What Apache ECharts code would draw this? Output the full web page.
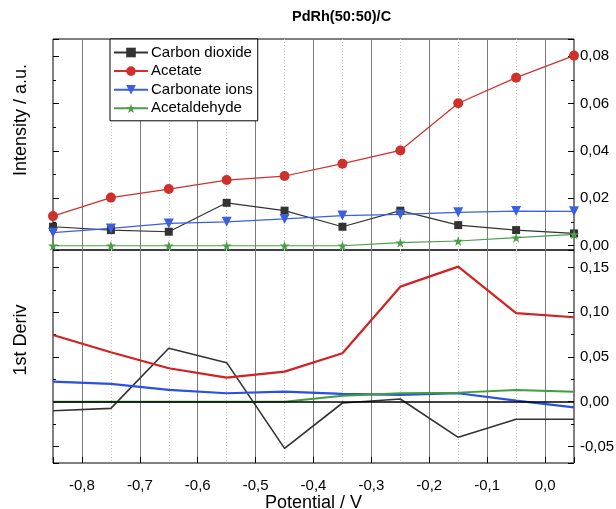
<!DOCTYPE html>
<html><head><meta charset="utf-8">
<script src="https://cdn.jsdelivr.net/npm/echarts@6/dist/echarts.min.js"></script>
<style>html,body{margin:0;padding:0;background:#fff}#c{width:616px;height:509px}</style>
</head><body><div id="c"></div>
<script>
// ---- data ----
const potentials = [-0.85, -0.75, -0.65, -0.55, -0.45, -0.35, -0.25, -0.15, -0.05, 0.05];
const seriesNames = ['Carbon dioxide', 'Acetate', 'Carbonate ions', 'Acetaldehyde'];
// top panel: Intensity / a.u.
const carbonDioxide = [0.0080, 0.0066, 0.0059, 0.0181, 0.0148, 0.0080, 0.0148, 0.0087, 0.0066, 0.0052];
const acetate       = [0.0125, 0.0203, 0.0239, 0.0277, 0.0294, 0.0346, 0.0402, 0.0601, 0.0709, 0.0802];
const carbonateIons = [0.0055, 0.0073, 0.0094, 0.0101, 0.0113, 0.0127, 0.0132, 0.0141, 0.0146, 0.0145];
const acetaldehyde  = [0.0000, 0.0000, 0.0000, 0.0000, 0.0000, 0.0000, 0.0013, 0.0020, 0.0034, 0.0048];
// bottom panel: 1st Deriv
const dCarbonDioxide = [-0.0101, -0.0075, 0.0597, 0.0436, -0.0522, -0.0015, 0.0030, -0.0399, -0.0197, -0.0197];
const dAcetate       = [0.0746, 0.0552, 0.0374, 0.0269, 0.0336, 0.0541, 0.1286, 0.1510, 0.0989, 0.0944];
const dCarbonateIons = [0.0224, 0.0198, 0.0131, 0.0094, 0.0112, 0.0086, 0.0075, 0.0094, 0.0011, -0.0063];
const dAcetaldehyde  = [0.0000, 0.0000, 0.0000, 0.0000, 0.0000, 0.0067, 0.0094, 0.0101, 0.0131, 0.0112];
// tick labels
const xTickLabels = ['-0,8', '-0,7', '-0,6', '-0,5', '-0,4', '-0,3', '-0,2', '-0,1', '0,0'];
const topTickLabels = ['0,00', '0,02', '0,04', '0,06', '0,08'];
const bottomTickLabels = ['-0,05', '0,00', '0,05', '0,10', '0,15'];

// ---- chart ----
const FONT = '"Liberation Sans", Arial, sans-serif';
const zip = arr => potentials.map((x, i) => [x, arr[i]]);
const colors = { black: '#333333', red: '#d0302c', blue: '#3a5fe0', green: '#4a9e4a' };
const starPath = 'path://M50,0 L61,35 L98,35 L68,57 L79,91 L50,70 L21,91 L32,57 L2,35 L39,35 Z';

function xLabel(v) {
  const r = Math.round(v * 10) / 10;
  if (Math.abs(v - r) > 1e-6) return '';
  const s = (r === 0 ? 0 : r).toFixed(1).replace('.', ',');
  return xTickLabels.indexOf(s) >= 0 ? s : '';
}
function yLabel(list) {
  return function (v) {
    const r = Math.round(v * 100) / 100;
    if (Math.abs(v - r) > 1e-6) return '';
    const s = (Math.abs(r) < 1e-9 ? 0 : r).toFixed(2).replace('.', ',');
    return list.indexOf(s) >= 0 ? s : '';
  };
}

const grids = [
  { left: 53, right: 42, top: 39, height: 211, show: true, borderColor: '#000', borderWidth: 1,
    backgroundColor: 'transparent', containLabel: false, outerBoundsMode: 'none' },
  { left: 53, right: 42, top: 250, height: 213, show: true, borderColor: '#000', borderWidth: 1,
    backgroundColor: 'transparent', containLabel: false, outerBoundsMode: 'none' }
];

function majorX(gridIndex, withLabels) {
  return {
    type: 'value', gridIndex, position: 'bottom', min: -0.85, max: 0.05, splitNumber: 9, minInterval: 0.1, maxInterval: 0.1,
    axisLine: { show: false, onZero: false },
    axisTick: { show: withLabels, inside: true, length: 6, lineStyle: { color: '#000' } },
    axisLabel: { show: withLabels, formatter: xLabel, fontFamily: FONT, fontSize: 15, color: '#000', margin: 15 },
    splitLine: { show: true, showMinLine: false, showMaxLine: false, lineStyle: { color: '#7a7a7a', width: 1 } },
    name: withLabels ? 'Potential / V' : '', nameLocation: 'middle', nameGap: 29,
    nameTextStyle: { fontFamily: FONT, fontSize: 18, color: '#000' }
  };
}
function minorX(gridIndex) {
  return {
    type: 'value', gridIndex, position: 'bottom', min: -0.85, max: 0.05, interval: 0.1,
    axisLine: { show: false, onZero: false }, axisTick: { show: false }, axisLabel: { show: false },
    splitLine: { show: true, showMinLine: false, showMaxLine: false, lineStyle: { color: '#c4c4c4', width: 1, type: [1, 2] } }
  };
}
function yAx(gridIndex, pos, min, max, step, labels) {
  return {
    type: 'value', gridIndex, position: pos, min, max, splitNumber: Math.round((max - min) / step),
    minInterval: step, maxInterval: step,
    axisLine: { show: false, onZero: false },
    axisTick: { show: true, inside: true, length: 6, lineStyle: { color: '#000' } },
    minorTick: { show: true, splitNumber: 2, length: 3, lineStyle: { color: '#000' } },
    axisLabel: { show: pos === 'right', formatter: yLabel(labels), fontFamily: FONT, fontSize: 15, color: '#000', margin: 6 },
    splitLine: { show: false }
  };
}

const topSeries = [
  { name: seriesNames[0], data: zip(carbonDioxide), color: colors.black, symbol: 'rect', symbolSize: 8, symbolRotate: 0 },
  { name: seriesNames[1], data: zip(acetate), color: colors.red, symbol: 'circle', symbolSize: 10, symbolRotate: 0 },
  { name: seriesNames[2], data: zip(carbonateIons), color: colors.blue, symbol: 'triangle', symbolSize: 10, symbolRotate: 180 },
  { name: seriesNames[3], data: zip(acetaldehyde), color: colors.green, symbol: starPath, symbolSize: 10, symbolRotate: 0 }
].map(s => ({
  type: 'line', xAxisIndex: 0, yAxisIndex: 0, name: s.name, data: s.data,
  symbol: s.symbol, symbolSize: s.symbolSize, symbolRotate: s.symbolRotate,
  itemStyle: { color: s.color }, lineStyle: { color: s.color, width: 1.2 }, z: 3
}));

const bottomDefs = [
  { name: seriesNames[0], data: zip(dCarbonDioxide), color: '#333333', width: 1.6 },
  { name: seriesNames[1], data: zip(dAcetate), color: '#d42020', width: 2.2 },
  { name: seriesNames[2], data: zip(dCarbonateIons), color: '#2a4fe6', width: 2.2 },
  { name: seriesNames[3], data: zip(dAcetaldehyde), color: '#3f9e3f', width: 2 }
];
const bottomSeries = bottomDefs.map((s, i) => {
  const o = {
    type: 'line', xAxisIndex: 2, yAxisIndex: 2, name: s.name, data: s.data,
    showSymbol: false, symbol: 'none', itemStyle: { color: s.color },
    lineStyle: { color: s.color, width: s.width }, z: 3
  };
  if (i === 0) {
    o.markLine = { silent: true, symbol: 'none', label: { show: false },
      lineStyle: { color: '#000', width: 1.6, type: 'solid' }, data: [{ yAxis: 0 }] };
  }
  return o;
});

const option = {
  animation: false,
  backgroundColor: '#fff',
  title: { text: 'PdRh(50:50)/C', left: 287, top: 4,
    textStyle: { fontFamily: FONT, fontSize: 14.5, fontWeight: 'bold', color: '#000' } },
  legend: {
    data: seriesNames, orient: 'vertical', left: 110, top: 39,
    itemWidth: 34, itemHeight: 12, itemGap: 3.6, padding: [6, 5, 5, 3],
    backgroundColor: '#fff', borderColor: '#000', borderWidth: 1,
    textStyle: { fontFamily: FONT, fontSize: 15, color: '#000', padding: [0, 0, 0, -2] }
  },
  grid: grids,
  xAxis: [majorX(0, false), minorX(0), majorX(1, true), minorX(1)],
  yAxis: [
    yAx(0, 'right', -0.0018, 0.0872, 0.02, topTickLabels),
    yAx(0, 'left', -0.0018, 0.0872, 0.02, topTickLabels),
    yAx(1, 'right', -0.0686, 0.1696, 0.05, bottomTickLabels),
    yAx(1, 'left', -0.0686, 0.1696, 0.05, bottomTickLabels)
  ],
  graphic: [
    { type: 'text', x: 21, y: 120, rotation: Math.PI / 2,
      style: { text: 'Intensity / a.u.', x: 0, y: 0, textAlign: 'center', textVerticalAlign: 'middle', font: '18px ' + FONT, fill: '#000' } },
    { type: 'text', x: 21, y: 340, rotation: Math.PI / 2,
      style: { text: '1st Deriv', x: 0, y: 0, textAlign: 'center', textVerticalAlign: 'middle', font: '18px ' + FONT, fill: '#000' } }
  ],
  series: topSeries.concat(bottomSeries)
};

const chart = echarts.init(document.getElementById('c'), null, { renderer: 'canvas' });
chart.setOption(option);
</script>
</body></html>
